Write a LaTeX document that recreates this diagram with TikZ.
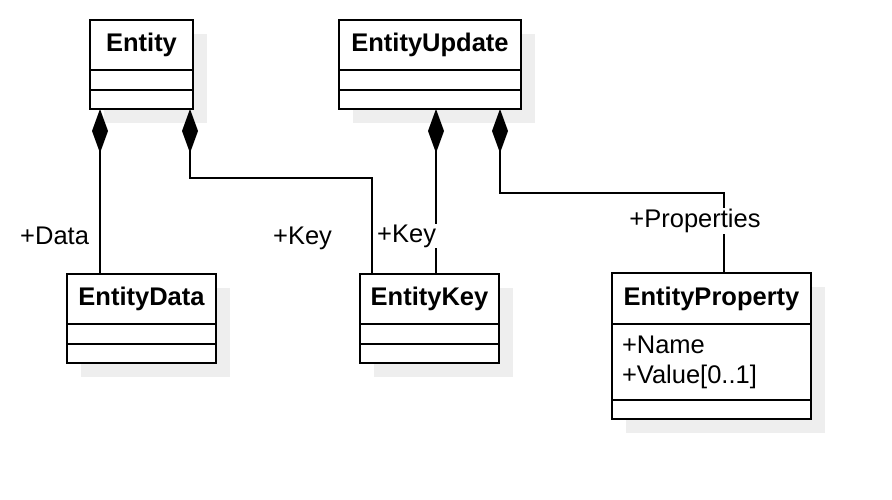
\documentclass[tikz,border=0pt]{standalone}
\usepackage{fontspec}
\setmainfont{Liberation Sans}
\usetikzlibrary{arrows.meta,backgrounds}

\definecolor{shadowgray}{HTML}{EEEEEE}
\newcommand{\umlfont}{\fontsize{25.5}{30}\selectfont}

\tikzset{
  umltitle/.style={draw, line width=2pt, fill=white, minimum height=50pt, inner sep=0pt, outer sep=0pt, font=\umlfont\bfseries, anchor=north west},
  umlpart/.style={draw, line width=2pt, fill=white, inner sep=0pt, outer sep=0pt, anchor=north},
  comp/.style={line width=2pt, {Diamond[length=44pt,width=16pt]}-},
  role/.style={inner sep=1pt, fill=white},
}

\begin{document}
\begin{tikzpicture}[x=1pt, y=-1pt, font=\umlfont]
\useasboundingbox (0,0) rectangle (892,500);

% classes
\node[umltitle, minimum width=103pt] (entity) at (90,20) {Entity};
\node[umlpart, minimum width=103pt, minimum height=20pt] (entity-a) at (entity.south) {};
\node[umlpart, minimum width=103pt, minimum height=19pt] (entity-o) at (entity-a.south) {};

\node[umltitle, minimum width=182pt] (update) at (339,20) {EntityUpdate};
\node[umlpart, minimum width=182pt, minimum height=20pt] (update-a) at (update.south) {};
\node[umlpart, minimum width=182pt, minimum height=19pt] (update-o) at (update-a.south) {};

\node[umltitle, minimum width=149pt] (data) at (67,274) {EntityData};
\node[umlpart, minimum width=149pt, minimum height=20pt] (data-a) at (data.south) {};
\node[umlpart, minimum width=149pt, minimum height=19pt] (data-o) at (data-a.south) {};

\node[umltitle, minimum width=139pt] (key) at (360,274) {EntityKey};
\node[umlpart, minimum width=139pt, minimum height=20pt] (key-a) at (key.south) {};
\node[umlpart, minimum width=139pt, minimum height=19pt] (key-o) at (key-a.south) {};

\node[umltitle, minimum width=199pt, minimum height=51pt] (prop) at (612,273) {EntityProperty};
\node[umlpart, minimum width=199pt, minimum height=76pt, text width=179pt, align=left] (prop-a) at (prop.south) {+Name\\+Value[0..1]};
\node[umlpart, minimum width=199pt, minimum height=19pt] (prop-o) at (prop-a.south) {};

% shadows
\begin{scope}[on background layer]
\foreach \cls in {entity,update,data,key,prop}
  \fill[shadowgray] ([shift={(14pt,-14pt)}]\cls.north west) rectangle ([shift={(14pt,-14pt)}]\cls-o.south east);
\end{scope}

% compositions
\draw[comp] ([xshift=10pt]entity-o.south west) -- node[pos=.77, left=9pt, inner sep=1pt] (datarole) {+Data} ([xshift=33pt]data.north west);
\draw[comp] ([xshift=-3pt]entity-o.south east) |- ([xshift=12pt,yshift=96pt]key.north west)
  -- node[pos=.625, left=38pt, inner sep=1pt] (keyrole) {+Key} ([xshift=12pt]key.north west);
\draw[comp] ([xshift=97pt]update-o.south west) -- node[pos=.77, anchor=east, xshift=2pt, role] (updkeyrole) {+Key} ([xshift=76pt]key.north west);
\draw[comp] ([xshift=161pt]update-o.south west) |- ([xshift=112pt,yshift=80pt]prop.north west)
  -- node[pos=.35, xshift=-29pt, role] (proprole) {+Properties} ([xshift=112pt]prop.north west);

\end{tikzpicture}
\end{document}
